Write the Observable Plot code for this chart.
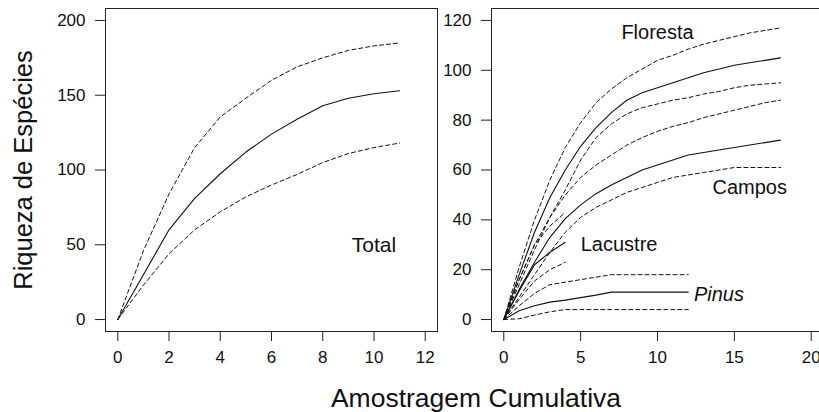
<!DOCTYPE html>
<html>
<head>
<meta charset="utf-8">
<script src="https://cdn.jsdelivr.net/npm/d3@7"></script>
<script src="https://cdn.jsdelivr.net/npm/@observablehq/plot@0.6"></script>
<style>
  html, body { margin: 0; padding: 0; background: #fff; overflow: hidden; }
  #wrap { position: relative; width: 819px; height: 412px; overflow: hidden; font-family: "Liberation Sans", Arial, sans-serif; }
  #left { position: absolute; left: 0; top: 0; }
  #right { position: absolute; left: 440px; top: 0; }
  #xtitle { position: absolute; left: 276px; width: 400px; top: 385px; text-align: center; font-size: 26.5px; line-height: 26px; color: #111; white-space: nowrap; }
</style>
</head>
<body>
<div id="wrap">
  <div id="left"></div>
  <div id="right"></div>
  <div id="xtitle">Amostragem Cumulativa</div>
</div>
<script>
// ---- Left panel: Total ----
const totalX     = [0, 1, 2, 3, 4, 5, 6, 7, 8, 9, 10, 11];
const totalMean  = [0, 30, 60, 81, 97.5, 112, 124, 134, 143, 148, 151, 153];
const totalUpper = [0, 46, 84, 115, 135.5, 148, 160, 169, 175, 180, 183, 185];
const totalLower = [0, 23, 44, 60, 72, 82, 90, 97, 105, 111, 115, 118];

// ---- Right panel: habitats ----
const florestaX     = [0, 1, 2, 3, 4, 5, 6, 7, 8, 9, 10, 11, 12, 13, 14, 15, 16, 17, 18];
const florestaMean  = [0, 18, 35, 49, 60, 69.5, 77, 83, 88, 91, 93, 95, 97, 99, 100.5, 102, 103, 104, 105];
const florestaUpper = [0, 21, 40, 56, 69, 79, 87, 92.5, 97, 100.5, 104, 106, 108.5, 110.5, 112, 113.5, 115, 116, 117];
const florestaLower = [0, 14, 28, 41, 52, 64, 73, 78.5, 82.5, 85, 86.5, 88, 89, 90.5, 91.5, 93, 94, 94.5, 95];

const camposX     = [0, 1, 2, 3, 4, 5, 6, 7, 8, 9, 10, 11, 12, 13, 14, 15, 16, 17, 18];
const camposMean  = [0, 12, 23, 33, 40.5, 46, 50.5, 54, 57, 60, 62, 64, 66, 67, 68, 69, 70, 71, 72];
const camposUpper = [0, 16, 30, 41, 50, 57, 62, 66, 70, 73, 75.5, 77.5, 79, 81, 82.5, 84, 85.5, 87, 88];
const camposLower = [0, 9, 18, 27, 35, 41, 45, 48, 51, 53, 55, 57, 58, 59, 60, 61, 61, 61, 61];

const lacustreX     = [0, 1, 2, 3, 4];
const lacustreMean  = [0, 11.5, 22, 27, 31];
const lacustreUpper = [0, 16, 30, 37.5, 43];
const lacustreLower = [0, 8, 15.5, 20, 23];

const pinusX     = [0, 1, 2, 3, 4, 5, 6, 7, 8, 9, 10, 11, 12];
const pinusMean  = [0, 3.5, 5.5, 7, 7.8, 8.8, 9.8, 11, 11, 11, 11, 11, 11];
const pinusUpper = [0, 5.5, 10.5, 14, 15, 16, 17, 18, 18, 18, 18, 18, 18];
const pinusLower = [0, 0.3, 1.8, 3.1, 4, 4, 4, 4, 4, 4, 4, 4, 4];

// tick values
const leftXTicks  = [0, 2, 4, 6, 8, 10, 12];
const leftYTicks  = [0, 50, 100, 150, 200];
const rightXTicks = [0, 5, 10, 15, 20];
const rightYTicks = [0, 20, 40, 60, 80, 100, 120];

// labels
const leftLabel = ["Total"];
const leftLabelX = [10];
const leftLabelY = [50];
const habitatLabels = ["Floresta", "Campos", "Lacustre"];
const habitatLabelX = [10, 16, 7.5];
const habitatLabelY = [115, 53, 30];
const pinusLabel = ["Pinus"];
const pinusLabelX = [14];
const pinusLabelY = [10];

const yTitle = "Riqueza de Espécies";

function rows(name, xs, ys, kind) {
  return xs.map((x, i) => ({series: name + "-" + kind, x, y: ys[i], kind}));
}
function labelRows(names, xs, ys) {
  return names.map((n, i) => ({label: n, x: xs[i], y: ys[i]}));
}

const leftData = [
  ...rows("total", totalX, totalMean, "mean"),
  ...rows("total", totalX, totalUpper, "ci"),
  ...rows("total", totalX, totalLower, "ci2")
];
const rightData = [
  ...rows("floresta", florestaX, florestaMean, "mean"),
  ...rows("floresta", florestaX, florestaUpper, "ci"),
  ...rows("floresta", florestaX, florestaLower, "ci2"),
  ...rows("campos", camposX, camposMean, "mean"),
  ...rows("campos", camposX, camposUpper, "ci"),
  ...rows("campos", camposX, camposLower, "ci2"),
  ...rows("lacustre", lacustreX, lacustreMean, "mean"),
  ...rows("lacustre", lacustreX, lacustreUpper, "ci"),
  ...rows("lacustre", lacustreX, lacustreLower, "ci2"),
  ...rows("pinus", pinusX, pinusMean, "mean"),
  ...rows("pinus", pinusX, pinusUpper, "ci"),
  ...rows("pinus", pinusX, pinusLower, "ci2")
];

const INK = "#111";
const FONT = '"Liberation Sans", Arial, Helvetica, sans-serif';
const baseStyle = {background: "transparent", fontFamily: FONT, fontSize: "16px", color: INK, overflow: "visible", maxWidth: "none"};

function lineMarks(data) {
  return [
    Plot.line(data.filter(d => d.kind !== "mean"), {x: "x", y: "y", z: "series", stroke: INK, strokeWidth: 1, strokeDasharray: "4,3"}),
    Plot.line(data.filter(d => d.kind === "mean"), {x: "x", y: "y", z: "series", stroke: INK, strokeWidth: 1.1})
  ];
}

function axisMarks(xTicks, yTicks) {
  return [
    Plot.axisX({ticks: xTicks, tickSize: 10, tickFormat: () => "", stroke: "#222", label: null}),
    Plot.axisY({ticks: yTicks, tickSize: 10, tickFormat: () => "", stroke: "#222", label: null}),
    Plot.text(xTicks, {x: d => d, frameAnchor: "bottom", dy: 31, fontSize: 17, fill: INK, text: d => String(d)}),
    Plot.text(yTicks, {y: d => d, frameAnchor: "left", textAnchor: "end", dx: -20, fontSize: 17, fill: INK, text: d => String(d)})
  ];
}

const leftPlot = Plot.plot({
  width: 440, height: 412,
  marginLeft: 105, marginRight: 3, marginTop: 8, marginBottom: 81,
  style: baseStyle,
  x: {domain: [-0.48, 12.48], label: null},
  y: {domain: [-8, 208], label: null},
  marks: [
    Plot.frame({stroke: "#222", strokeWidth: 1}),
    ...axisMarks(leftXTicks, leftYTicks),
    ...lineMarks(leftData),
    Plot.text(labelRows(leftLabel, leftLabelX, leftLabelY), {x: "x", y: "y", text: "label", fontSize: 21, fill: INK}),
    Plot.text([yTitle], {frameAnchor: "left", textAnchor: "middle", dx: -82, rotate: -90, fontSize: 25.5, fill: INK})
  ]
});
document.getElementById("left").appendChild(leftPlot);

const rightPlot = Plot.plot({
  width: 390, height: 412,
  marginLeft: 51, marginRight: 7, marginTop: 8, marginBottom: 81,
  style: baseStyle,
  x: {domain: [-0.8, 20.8], label: null},
  y: {domain: [-4.8, 124.8], label: null},
  marks: [
    Plot.frame({stroke: "#222", strokeWidth: 1}),
    ...axisMarks(rightXTicks, rightYTicks),
    ...lineMarks(rightData),
    Plot.text(labelRows(habitatLabels, habitatLabelX, habitatLabelY), {x: "x", y: "y", text: "label", fontSize: 20, fill: INK}),
    Plot.text(labelRows(pinusLabel, pinusLabelX, pinusLabelY), {x: "x", y: "y", text: "label", fontSize: 20, fontStyle: "italic", fill: INK})
  ]
});
document.getElementById("right").appendChild(rightPlot);
</script>
</body>
</html>
